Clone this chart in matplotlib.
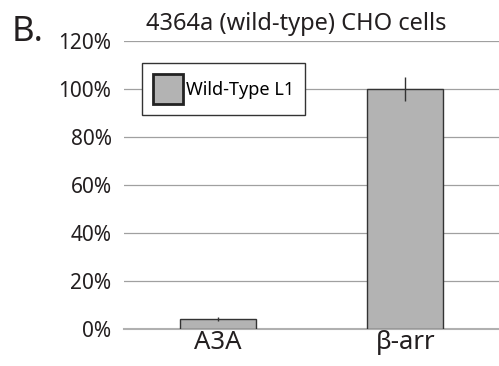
import numpy as np
import matplotlib
matplotlib.use("Agg")
import matplotlib.pyplot as plt
from matplotlib.ticker import PercentFormatter

# ── Data ─────────────────────────────────────────────
categories = ["A3A", "β-arr"]
values = [4.0, 100.0]
errors = [0.8, 5.0]
series_name = "Wild-Type L1"
yticks = [0, 20, 40, 60, 80, 100, 120]

plt.rcParams["font.family"] = ["Noto Sans", "DejaVu Sans"]

fig = plt.figure(figsize=(4.99, 3.66), dpi=100)
ax = fig.add_axes([124/499, 1 - 329/366, 375/499, 288/366])

x = np.arange(len(categories))
ax.bar(x, values, width=0.405, color="#b3b3b3", edgecolor="#333333",
       linewidth=1.0, label=series_name, zorder=3)
ax.errorbar(x, values, yerr=errors, fmt="none", ecolor="#333333",
            elinewidth=1.0, capsize=0, zorder=4)

ax.set_xlim(-0.5, 1.5)
ax.set_ylim(0, 120)
ax.set_yticks(yticks)
ax.yaxis.set_major_formatter(PercentFormatter(decimals=0))
ax.set_xticks(x)
ax.set_xticklabels(categories, fontsize=18.5, color="#231f20")
ax.tick_params(axis="y", length=0, pad=9, labelsize=15, labelcolor="#231f20")
ax.tick_params(axis="x", length=0, pad=1)
ax.grid(axis="y", color="#a0a0a0", linewidth=0.9, zorder=0)
ax.set_axisbelow(True)
for s in ["left", "right", "top"]:
    ax.spines[s].set_visible(False)
ax.spines["bottom"].set_color("#b0b0b0")
ax.spines["bottom"].set_linewidth(1.5)

leg = ax.legend(loc="upper left", bbox_to_anchor=(18/375, 266/288),
                frameon=True, fancybox=False, fontsize=13,
                handlelength=1.65, handleheight=2.2, handletextpad=0.2,
                borderpad=0.6, borderaxespad=0)
leg.get_frame().set_edgecolor("#333333")
leg.get_frame().set_linewidth(1.0)
leg.get_frame().set_alpha(1)
for p in leg.get_patches():
    p.set_edgecolor("#222222")
    p.set_linewidth(2.0)

fig.text(296/499, 1 - 24/366, "4364a (wild-type) CHO cells", ha="center",
         va="center", fontsize=17, color="#231f20")
fig.text(12/499, 1 - 32/366, "B.", ha="left", va="center", fontsize=25,
         color="#231f20")

fig.savefig("out.png", dpi=100)
